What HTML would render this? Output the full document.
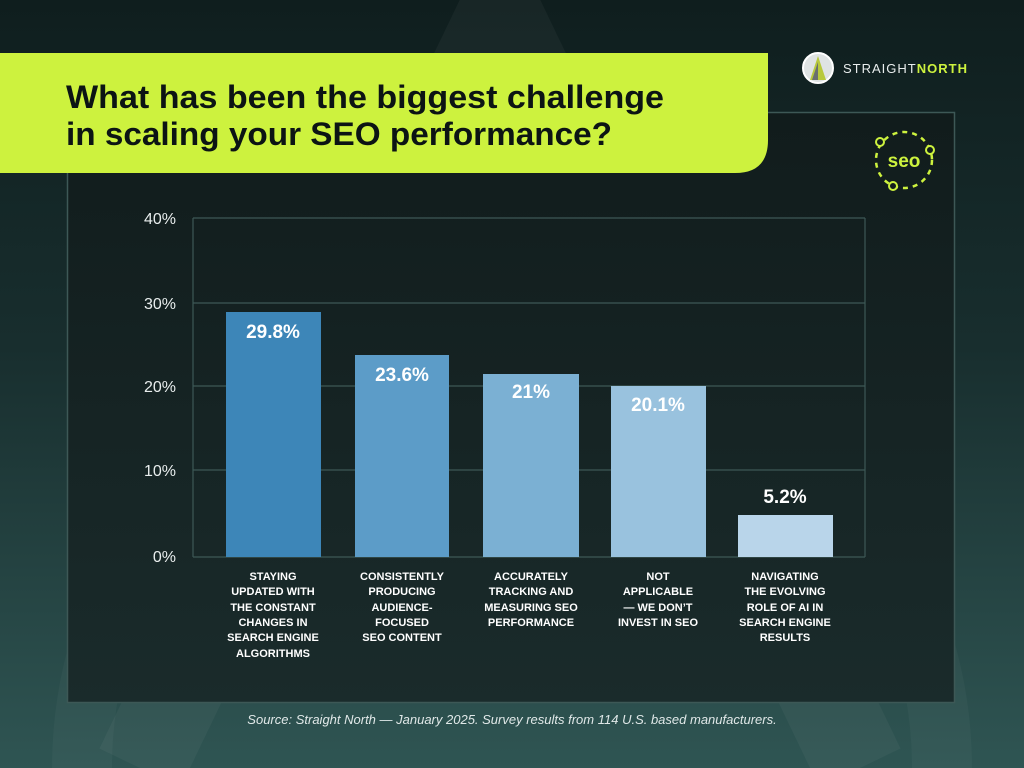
<!DOCTYPE html>
<html><head><meta charset="utf-8"><style>
html,body{margin:0;padding:0;width:1024px;height:768px;overflow:hidden;font-family:"Liberation Sans",sans-serif;}
svg{display:block;}
</style></head><body>
<svg width="1024" height="768" viewBox="0 0 1024 768" xmlns="http://www.w3.org/2000/svg" style="overflow:hidden">
<defs>
<linearGradient id="bg" x1="0" y1="0" x2="0" y2="1">
<stop offset="0" stop-color="#0f1e1e"/><stop offset="0.45" stop-color="#182e2e"/><stop offset="1" stop-color="#2f5553"/>
</linearGradient>
<linearGradient id="pn" x1="0" y1="0" x2="0" y2="1">
<stop offset="0" stop-color="#111c1c"/><stop offset="1" stop-color="#1a2b2b"/>
</linearGradient>
<clipPath id="cp"><rect width="1024" height="768"/></clipPath>
</defs>
<rect width="1024" height="768" fill="url(#bg)"/>
<g clip-path="url(#cp)">
<path d="M140 768 L500 20 L860 768" fill="none" stroke="#ffffff" stroke-opacity="0.04" stroke-width="90"/>
<path d="M82 768 A430 430 0 1 1 942 768" fill="none" stroke="#ffffff" stroke-opacity="0.03" stroke-width="60"/>
</g>
<rect x="67.5" y="112.5" width="887" height="590" fill="url(#pn)" stroke="#3d5856" stroke-width="1.5"/>
<path d="M0 53 H768 V140 Q768 173 735 173 H0 Z" fill="#cdf23e"/>
<text x="66" y="108" font-size="32" font-weight="bold" fill="#0c1414" textLength="598" lengthAdjust="spacingAndGlyphs">What has been the biggest challenge</text>
<text x="66" y="145" font-size="32" font-weight="bold" fill="#0c1414" textLength="546" lengthAdjust="spacingAndGlyphs">in scaling your SEO performance?</text>
<circle cx="818" cy="68" r="15" fill="#dfe3e3" stroke="#ffffff" stroke-width="2"/>
<path d="M810 80 L818 56 L826 80 Z" fill="#b8c93c"/>
<path d="M812 80 L818 62 L818 80 Z" fill="#6a6f6f"/>
<text x="843" y="73" font-size="13" fill="#e8eded" letter-spacing="1">STRAIGHT<tspan fill="#cdf23e" font-weight="bold">NORTH</tspan></text>
<circle cx="904" cy="160" r="28" fill="none" stroke="#cdf23e" stroke-width="2.5" stroke-dasharray="5 5"/>
<text x="904" y="167" font-size="19" font-weight="bold" fill="#cdf23e" text-anchor="middle">seo</text>
<circle cx="880" cy="142" r="4" fill="#111c1c" stroke="#cdf23e" stroke-width="2"/>
<circle cx="930" cy="150" r="4" fill="#111c1c" stroke="#cdf23e" stroke-width="2"/>
<circle cx="893" cy="186" r="4" fill="#111c1c" stroke="#cdf23e" stroke-width="2"/>
<g stroke="#3d5856" stroke-width="1.2">
<line x1="193" y1="218" x2="865" y2="218"/>
<line x1="193" y1="303" x2="865" y2="303"/>
<line x1="193" y1="386" x2="865" y2="386"/>
<line x1="193" y1="470" x2="865" y2="470"/>
<line x1="193" y1="557" x2="865" y2="557"/>
<line x1="193" y1="218" x2="193" y2="557"/>
<line x1="865" y1="218" x2="865" y2="557"/>
</g>
<g font-size="16" fill="#e8eded" text-anchor="end">
<text x="176" y="224">40%</text><text x="176" y="309">30%</text><text x="176" y="392">20%</text><text x="176" y="476">10%</text><text x="176" y="562">0%</text>
</g>
<rect x="226" y="312" width="95" height="245" fill="#3d86b8"/>
<rect x="355" y="355" width="94" height="202" fill="#5c9cc8"/>
<rect x="483" y="374" width="96" height="183" fill="#7bb0d3"/>
<rect x="611" y="386" width="95" height="171" fill="#99c2de"/>
<rect x="738" y="515" width="95" height="42" fill="#b9d5ea"/>
<g font-size="19" font-weight="bold" fill="#ffffff" text-anchor="middle">
<text x="273" y="338">29.8%</text><text x="402" y="381">23.6%</text><text x="531" y="398">21%</text><text x="658" y="411">20.1%</text><text x="785" y="503">5.2%</text>
</g>
<g font-size="11" font-weight="bold" fill="#ffffff" text-anchor="middle">
<text x="273" y="580">STAYING</text><text x="273" y="595">UPDATED WITH</text><text x="273" y="611">THE CONSTANT</text><text x="273" y="626">CHANGES IN</text><text x="273" y="641">SEARCH ENGINE</text><text x="273" y="657">ALGORITHMS</text>
<text x="402" y="580">CONSISTENTLY</text><text x="402" y="595">PRODUCING</text><text x="402" y="611">AUDIENCE-</text><text x="402" y="626">FOCUSED</text><text x="402" y="641">SEO CONTENT</text>
<text x="531" y="580">ACCURATELY</text><text x="531" y="595">TRACKING AND</text><text x="531" y="611">MEASURING SEO</text><text x="531" y="626">PERFORMANCE</text>
<text x="658" y="580">NOT</text><text x="658" y="595">APPLICABLE</text><text x="658" y="611">— WE DON’T</text><text x="658" y="626">INVEST IN SEO</text>
<text x="785" y="580">NAVIGATING</text><text x="785" y="595">THE EVOLVING</text><text x="785" y="611">ROLE OF AI IN</text><text x="785" y="626">SEARCH ENGINE</text><text x="785" y="641">RESULTS</text>
</g>
<text x="512" y="724" font-size="13" font-style="italic" fill="#e0e8e8" text-anchor="middle">Source: Straight North — January 2025. Survey results from 114 U.S. based manufacturers.</text>
</svg>
</body></html>
